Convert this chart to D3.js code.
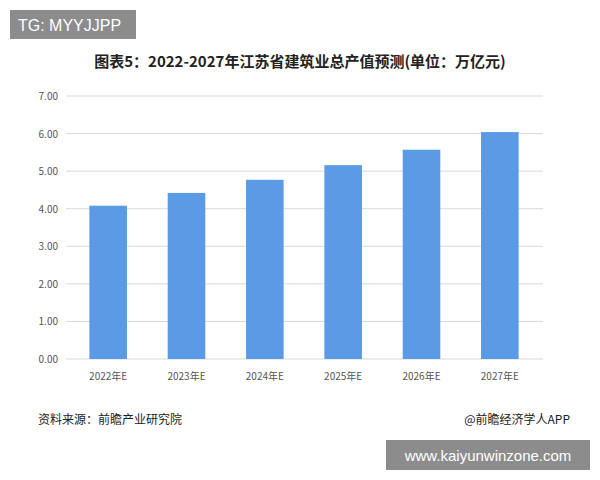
<!DOCTYPE html>
<html><head><meta charset="utf-8">
<script src="https://cdn.jsdelivr.net/npm/d3@7"></script>
<style>body{margin:0;background:#fff;font-family:"Noto Sans CJK SC","Noto Sans",sans-serif;}</style>
</head><body>
<script>
const categories = ["2022年E", "2023年E", "2024年E", "2025年E", "2026年E", "2027年E"];
const values = [4.08, 4.42, 4.77, 5.16, 5.57, 6.04];
const yTicks = [0, 1, 2, 3, 4, 5, 6, 7];

const width = 600, height = 480;
const svg = d3.select("body").append("svg").attr("width", width).attr("height", height);

// top-left tag
svg.append("rect").attr("x", 10).attr("y", 10).attr("width", 126).attr("height", 29).attr("fill", "#8c8c8c");
svg.append("text").attr("x", 18).attr("y", 31).attr("fill", "#fff").attr("font-size", 16)
  .attr("font-family", "Liberation Sans, sans-serif").text("TG: MYYJJPP");

svg.append("text").attr("x", 300).attr("y", 67).attr("text-anchor", "middle")
  .attr("font-size", 15).attr("font-weight", "bold").attr("fill", "#222")
  .text("图表5：2022-2027年江苏省建筑业总产值预测(单位：万亿元)");

const x = d3.scaleBand().domain(categories).range([69, 539]).paddingInner(0.52).paddingOuter(0.26);
const y = d3.scaleLinear().domain([0, 7]).range([359, 96]);

svg.append("g").selectAll("line").data(yTicks).enter().append("line")
  .attr("x1", 66).attr("x2", 543).attr("y1", d => y(d)).attr("y2", d => y(d))
  .attr("stroke", "#d9d9d9").attr("stroke-width", 1);

svg.append("g").selectAll("text").data(yTicks).enter().append("text")
  .attr("x", 58).attr("y", d => y(d) + 4).attr("text-anchor", "end")
  .attr("font-size", 10).attr("fill", "#555").text(d => d.toFixed(2));

svg.append("g").selectAll("rect").data(values).enter().append("rect")
  .attr("x", (d, i) => x(categories[i])).attr("width", x.bandwidth())
  .attr("y", d => y(d)).attr("height", d => y(0) - y(d)).attr("fill", "#5b9be6");

svg.append("g").selectAll("text").data(categories).enter().append("text")
  .attr("x", d => x(d) + x.bandwidth() / 2).attr("y", 380).attr("text-anchor", "middle")
  .attr("font-size", 10).attr("fill", "#555").text(d => d);

svg.append("text").attr("x", 38).attr("y", 424).attr("font-size", 12).attr("fill", "#222").text("资料来源：前瞻产业研究院");
svg.append("text").attr("x", 570).attr("y", 424).attr("text-anchor", "end").attr("font-size", 12).attr("fill", "#222").text("@前瞻经济学人APP");

svg.append("rect").attr("x", 386).attr("y", 440).attr("width", 204).attr("height", 30).attr("fill", "#8c8c8c");
svg.append("text").attr("x", 488).attr("y", 461).attr("text-anchor", "middle").attr("fill", "#fff").attr("font-size", 15)
  .attr("font-family", "Liberation Sans, sans-serif").text("www.kaiyunwinzone.com");
</script>
</body></html>
